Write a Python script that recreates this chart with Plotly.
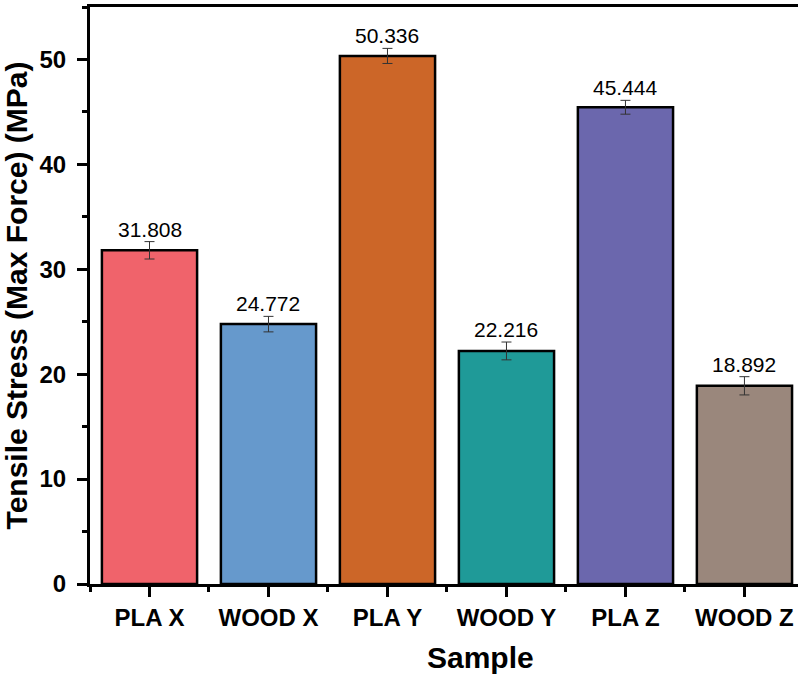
import plotly.graph_objects as go

# Sample groups and measured tensile stress (MPa)
samples = ["PLA X", "WOOD X", "PLA Y", "WOOD Y", "PLA Z", "WOOD Z"]
stress = [31.808, 24.772, 50.336, 22.216, 45.444, 18.892]
stress_err = [0.83, 0.74, 0.72, 0.85, 0.66, 0.87]
bar_colors = ["#F0636B", "#6699CC", "#CC6628", "#1F9A98", "#6B67AD", "#9A877C"]

positions = list(range(len(samples)))

fig = go.Figure()
fig.add_trace(go.Bar(
    x=positions,
    y=stress,
    width=0.8,
    marker=dict(color=bar_colors, line=dict(color="black", width=2.5)),
    error_y=dict(type="data", array=stress_err, visible=True,
                 color="#333333", thickness=1, width=5),
    showlegend=False,
))

# value labels above each error bar
for xi, v, e in zip(positions, stress, stress_err):
    fig.add_annotation(
        x=xi, y=v + e, xref="x", yref="y",
        text=f"{v:.3f}", showarrow=False,
        yanchor="bottom", yshift=-1,
        font=dict(family="Arial, Liberation Sans", size=21, color="black"),
    )

# x-axis title
fig.add_annotation(
    x=(480 - 90) / 708, y=-0.127, xref="paper", yref="paper",
    text="<b>Sample</b>", showarrow=False,
    xanchor="center", yanchor="middle",
    font=dict(family="Arial, Liberation Sans", size=30, color="black"),
)

fig.update_layout(
    width=798, height=676,
    margin=dict(l=90, r=0, t=7, b=92),
    plot_bgcolor="white", paper_bgcolor="white",
    bargap=0.2,
)

fig.update_xaxes(
    range=[-0.5, 5.45],
    tickmode="array", tickvals=positions, ticktext=[f"<b>{s}</b>" for s in samples],
    ticks="outside", ticklen=10, tickwidth=3, tickcolor="black",
    tickfont=dict(family="Arial, Liberation Sans", size=24, color="black"),
    minor=dict(tickmode="array", tickvals=[p - 0.5 for p in positions] + [5.5],
               ticks="outside", ticklen=5, tickwidth=3, tickcolor="black"),
    showline=True, linecolor="black", linewidth=3, mirror=True,
    showgrid=False, zeroline=False,
)

fig.update_yaxes(
    range=[0, 55], dtick=10, tick0=0,
    ticks="outside", ticklen=10, tickwidth=3, tickcolor="black",
    tickfont=dict(family="Arial, Liberation Sans", size=24, color="black"),
    tickprefix="<b>", ticksuffix="</b>",
    ticklabelstandoff=6,
    minor=dict(dtick=5, ticks="outside", ticklen=5, tickwidth=3, tickcolor="black"),
    showline=True, linecolor="black", linewidth=3,
    showgrid=False, zeroline=False,
    title=dict(text="<b>Tensile Stress (Max Force) (MPa)</b>",
               font=dict(family="Arial, Liberation Sans", size=30, color="black"),
               standoff=6),
)

fig.write_html("out.html")
